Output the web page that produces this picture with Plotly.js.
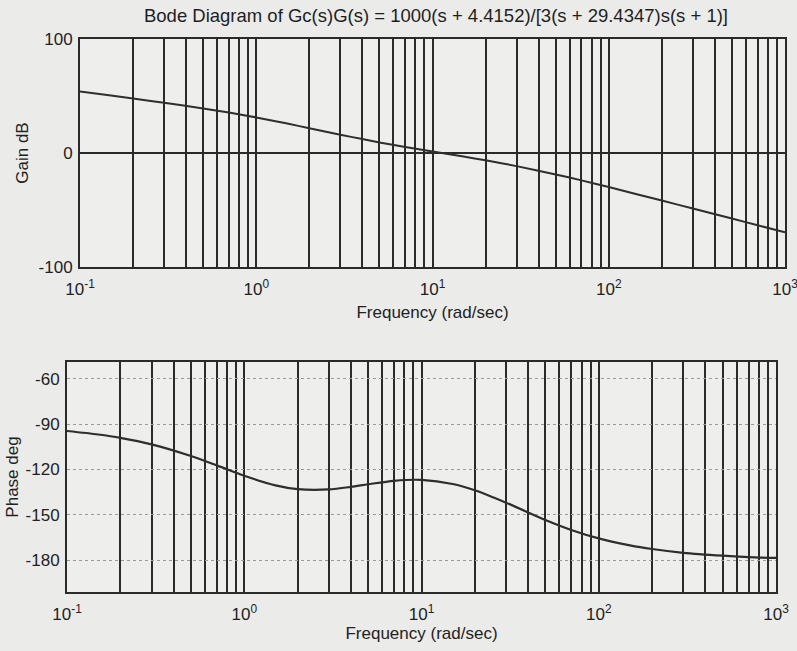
<!DOCTYPE html>
<html>
<head>
<meta charset="utf-8">
<script src="https://cdn.plot.ly/plotly-3.0.1.min.js"></script>
<style>
html,body{margin:0;padding:0;background:#ebebea;}
#chart{width:797px;height:651px;}
</style>
</head>
<body>
<div id="chart"></div>
<script>
var freq = [0.1, 0.15, 0.2, 0.3, 0.5, 0.7, 1, 1.5, 2, 3, 4, 5, 7, 10, 15, 20, 30, 50, 70, 100, 150, 200, 300, 500, 700, 1000];
// Gain in dB
var gainDb = [53.9, 50.4, 47.8, 44.1, 39.1, 35.5, 31.2, 25.8, 21.8, 16.0, 12.2, 9.3, 5.3, 1.3, -3.1, -6.4, -11.5, -18.8, -24.0, -29.9, -36.8, -41.7, -48.7, -57.5, -63.4, -69.6];
// Phase in degrees
var phaseDeg = [-94.6, -96.9, -99.1, -103.4, -111.1, -117.3, -124.2, -130.5, -133.0, -133.2, -131.5, -129.8, -127.5, -126.9, -129.6, -133.8, -142.0, -153.4, -160.0, -165.6, -170.2, -172.6, -175.1, -177.0, -177.9, -178.5];

// Tick labels
var decades = [0.1, 1, 10, 100, 1000];
var decadeLabels = ['10<sup>-1</sup>', '10<sup>0</sup>', '10<sup>1</sup>', '10<sup>2</sup>', '10<sup>3</sup>'];
var multipliers = [1, 2, 3, 4, 5, 6, 7, 8, 9];
var gainTicks = [-100, 0, 100];
var gainTickText = ['-100', '0', '100'];
var phaseTicks = [-60, -90, -120, -150, -180];
var phaseTickText = ['-60', '-90', '-120', '-150', '-180'];

var titleText = 'Bode Diagram of Gc(s)G(s) = 1000(s + 4.4152)/[3(s + 29.4347)s(s + 1)]';
var xTitle = 'Frequency (rad/sec)';

// Build grid tick positions (every 1..9 multiple of each decade)
var xTickVals = [], xTickText = [];
for (var d = 0; d < decades.length; d++) {
  for (var m = 0; m < multipliers.length; m++) {
    if (d === decades.length - 1 && m > 0) break;
    var v = decades[d] * multipliers[m];
    xTickVals.push(v);
    xTickText.push(m === 0 ? decadeLabels[d] : '');
  }
}

var FONT = 'Liberation Sans, Arial, sans-serif';
var ink = '#222222';

var traces = [
  {x: freq, y: gainDb, xaxis: 'x', yaxis: 'y', mode: 'lines',
   line: {color: '#2e2e2e', width: 2, shape: 'spline', smoothing: 0.6}, hoverinfo: 'skip'},
  {x: freq, y: phaseDeg, xaxis: 'x2', yaxis: 'y2', mode: 'lines',
   line: {color: '#2e2e2e', width: 2.2, shape: 'spline', smoothing: 0.8}, hoverinfo: 'skip'}
];

function xAxis(domain, anchor, standoff) {
  return {
    type: 'log', domain: domain, anchor: anchor,
    range: [-1, 3],
    tickmode: 'array', tickvals: xTickVals, ticktext: xTickText,
    ticks: '', showgrid: true, gridcolor: '#2a2a2a', gridwidth: 2,
    showline: true, mirror: true, linecolor: '#2a2a2a', linewidth: 2,
    zeroline: false, ticklabelstandoff: 6, ticklabeloverflow: 'allow',
    tickfont: {family: FONT, size: 17, color: ink},
    title: {text: xTitle, font: {family: FONT, size: 17, color: ink}, standoff: standoff},
    automargin: false, fixedrange: true
  };
}

var layout = {
  width: 797, height: 651,
  margin: {l: 0, r: 0, t: 0, b: 0},
  paper_bgcolor: '#ebebea',
  plot_bgcolor: '#eeeeed',
  showlegend: false,
  font: {family: FONT, color: ink},
  title: {text: titleText, font: {family: FONT, size: 18.5, color: '#1e1e1e'},
          x: 436/797, xanchor: 'center', y: 1 - 16/651, yanchor: 'middle', xref: 'paper', yref: 'paper'},
  xaxis: xAxis([80/797, 785/797], 'y', 8),
  yaxis: {
    domain: [1 - 267/651, 1 - 39/651], anchor: 'x',
    range: [-100, 100], tickmode: 'array', tickvals: gainTicks, ticktext: gainTickText,
    ticks: '', showgrid: true, gridcolor: '#2a2a2a', gridwidth: 2,
    showline: true, mirror: true, linecolor: '#2a2a2a', linewidth: 2,
    zeroline: false, ticklabelstandoff: 2, ticklabeloverflow: 'allow',
    tickfont: {family: FONT, size: 17, color: ink},
    title: {text: 'Gain dB', font: {family: FONT, size: 17, color: ink}, standoff: 6},
    automargin: false, fixedrange: true
  },
  xaxis2: xAxis([67/797, 776/797], 'y2', 4),
  yaxis2: {
    domain: [1 - 592/651, 1 - 362/651], anchor: 'x2',
    range: [-201, -49], tickmode: 'array', tickvals: phaseTicks, ticktext: phaseTickText,
    ticks: '', showgrid: true, gridcolor: '#9a9a9a', gridwidth: 1, griddash: 'dot',
    showline: true, mirror: true, linecolor: '#2a2a2a', linewidth: 2,
    zeroline: false, ticklabelstandoff: 2, ticklabeloverflow: 'allow',
    tickfont: {family: FONT, size: 17, color: ink},
    title: {text: 'Phase deg', font: {family: FONT, size: 17, color: ink}, standoff: 3},
    automargin: false, fixedrange: true
  }
};

Plotly.newPlot('chart', traces, layout, {staticPlot: true, displayModeBar: false});
</script>
</body>
</html>
